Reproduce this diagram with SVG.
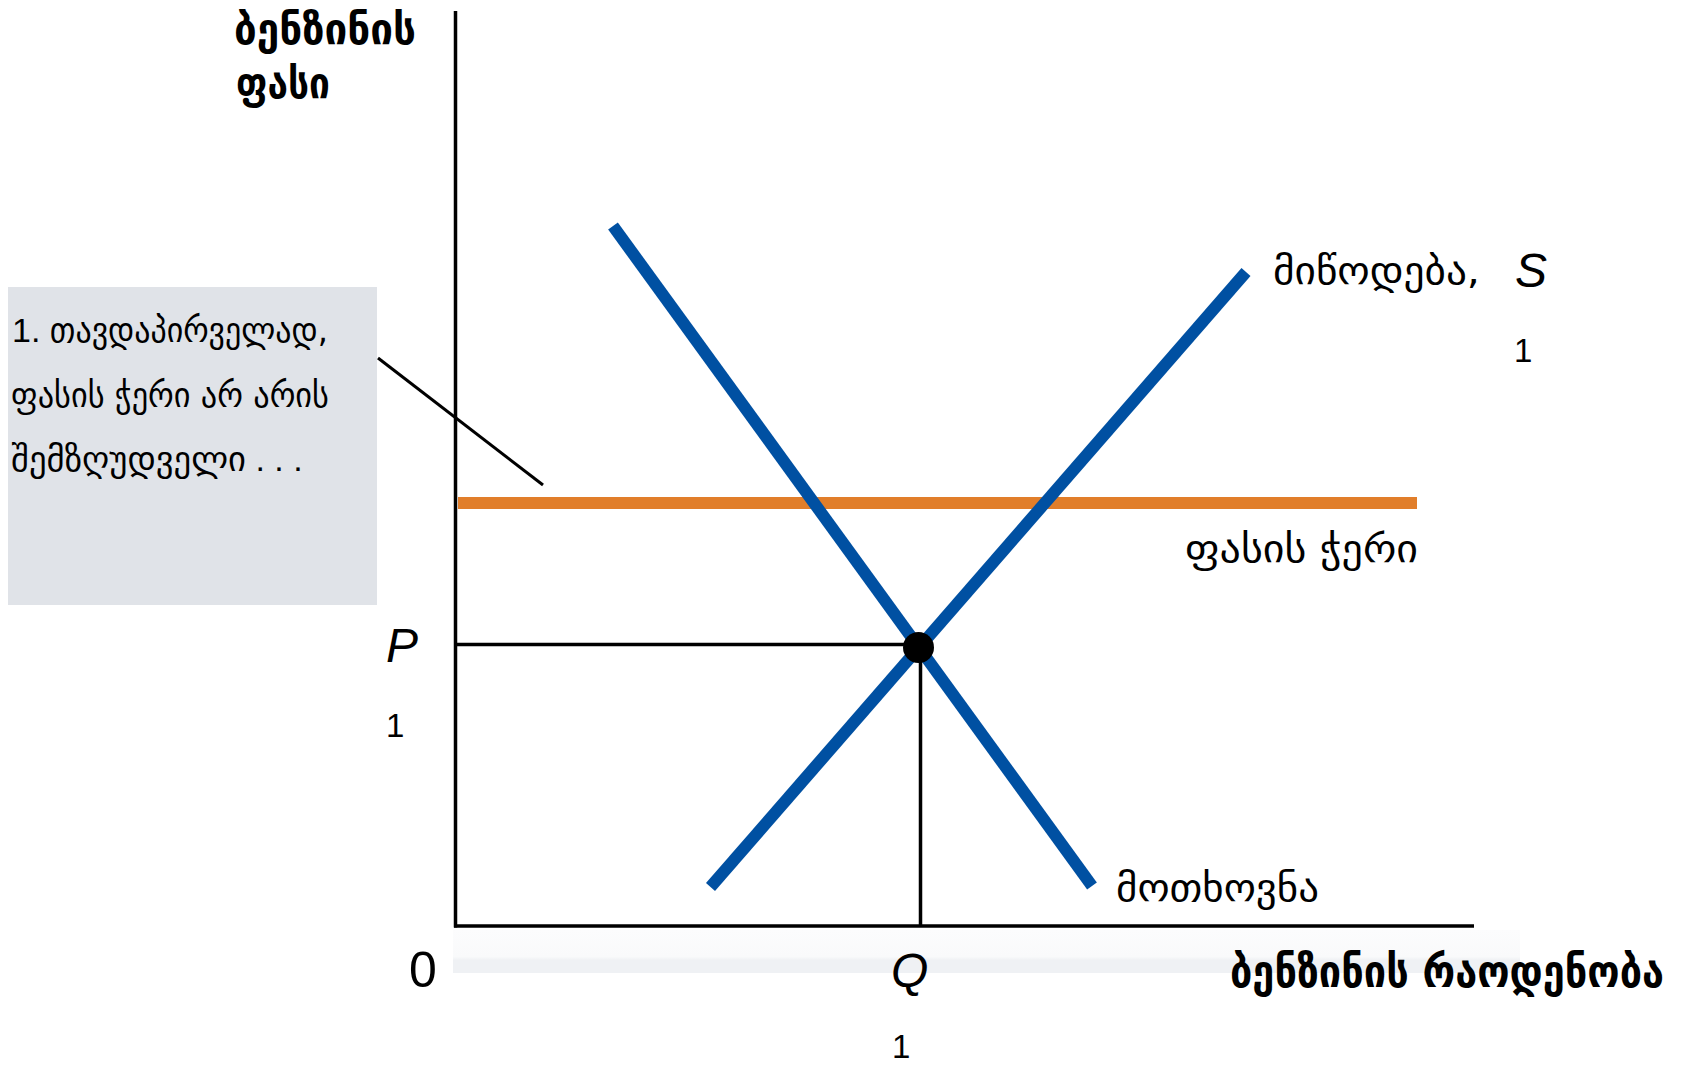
<svg xmlns="http://www.w3.org/2000/svg" width="1682" height="1065" viewBox="0 0 1682 1065">
  <defs>
    <linearGradient id="band" x1="0" y1="0" x2="0" y2="1">
      <stop offset="0" stop-color="#fcfcfd"/>
      <stop offset="0.62" stop-color="#f9fafb"/>
      <stop offset="0.7" stop-color="#eff1f4"/>
      <stop offset="1" stop-color="#eff1f4"/>
    </linearGradient>
    <style>
      .ax { stroke: #000; stroke-width: 3.5; fill: none; }
      .guide { stroke: #000; stroke-width: 3.5; fill: none; }
      .curve { stroke: #0050a2; stroke-width: 12; fill: none; }
      .ceil { stroke: #e17e2a; stroke-width: 12; fill: none; }
      .lead { stroke: #000; stroke-width: 3; fill: none; }
      .geo { font-family: "DejaVu Sans", "Noto Sans", sans-serif; fill: #000; }
      .geob { font-family: "DejaVu Sans", "Noto Sans", sans-serif; font-weight: bold; fill: #000; }
      .lat { font-family: "Liberation Sans", Arial, sans-serif; fill: #000; }
      .it { font-family: "Liberation Sans", Arial, sans-serif; font-style: italic; fill: #000; }
    </style>
  </defs>
  <rect width="1682" height="1065" fill="#fff"/>

  <rect id="axis-band" x="453" y="930" width="1067" height="43" fill="url(#band)"/>

  <g id="callout">
    <rect x="8" y="287" width="369" height="318" fill="#e0e3e8"/>
    <text class="lat" x="12" y="342" font-size="34">1. <tspan class="geo" font-size="34" textLength="278" lengthAdjust="spacingAndGlyphs">თავდაპირველად,</tspan></text>
    <text class="geo" x="11" y="407" font-size="34" textLength="318" lengthAdjust="spacingAndGlyphs">ფასის ჭერი არ არის</text>
    <text class="geo" x="11" y="471" font-size="34"><tspan textLength="235" lengthAdjust="spacingAndGlyphs">შემზღუდველი</tspan><tspan class="lat"> . . .</tspan></text>
  </g>

  <g id="connectors">
    <line class="ax" x1="455.5" y1="11" x2="455.5" y2="927.5"/>
    <line class="ax" x1="454" y1="926" x2="1474" y2="926"/>
    <line class="guide" x1="455" y1="644.5" x2="918" y2="644.5"/>
    <line class="guide" x1="920.5" y1="647" x2="920.5" y2="926"/>
    <line class="lead" x1="378" y1="358" x2="543" y2="485"/>
    <line class="ceil" x1="458" y1="503" x2="1417" y2="503"/>
    <line class="curve" x1="613" y1="226" x2="1092" y2="886"/>
    <line class="curve" x1="710.5" y1="887" x2="1246" y2="272"/>
  </g>

  <g id="equilibrium">
    <circle cx="918.5" cy="647.5" r="15.5" fill="#000"/>
  </g>

  <g id="y-title">
    <text class="geob" x="234" y="44" font-size="42" textLength="182" lengthAdjust="spacingAndGlyphs">ბენზინის</text>
    <text class="geob" x="236" y="98" font-size="42" textLength="94" lengthAdjust="spacingAndGlyphs">ფასი</text>
  </g>

  <g id="supply-label">
    <text class="geo" x="1273" y="284" font-size="38" textLength="207" lengthAdjust="spacingAndGlyphs">მიწოდება,</text>
    <text class="it" x="1515" y="287" font-size="48">S</text>
    <text class="lat" x="1514" y="362" font-size="33">1</text>
  </g>

  <g id="ceiling-label">
    <text class="geo" x="1185" y="562" font-size="38" textLength="233" lengthAdjust="spacingAndGlyphs">ფასის ჭერი</text>
  </g>

  <g id="demand-label">
    <text class="geo" x="1116" y="901" font-size="38" textLength="203" lengthAdjust="spacingAndGlyphs">მოთხოვნა</text>
  </g>

  <g id="p-label">
    <text class="it" x="386" y="662" font-size="48">P</text>
    <text class="lat" x="386" y="737" font-size="33">1</text>
  </g>

  <g id="origin-label">
    <text class="lat" x="409" y="987" font-size="50">0</text>
  </g>

  <g id="q-label">
    <text class="it" x="891" y="987" font-size="48">Q</text>
    <text class="lat" x="892" y="1058" font-size="33">1</text>
  </g>

  <g id="x-title">
    <text class="geob" x="1230" y="987" font-size="44" textLength="434" lengthAdjust="spacingAndGlyphs">ბენზინის რაოდენობა</text>
  </g>
</svg>
